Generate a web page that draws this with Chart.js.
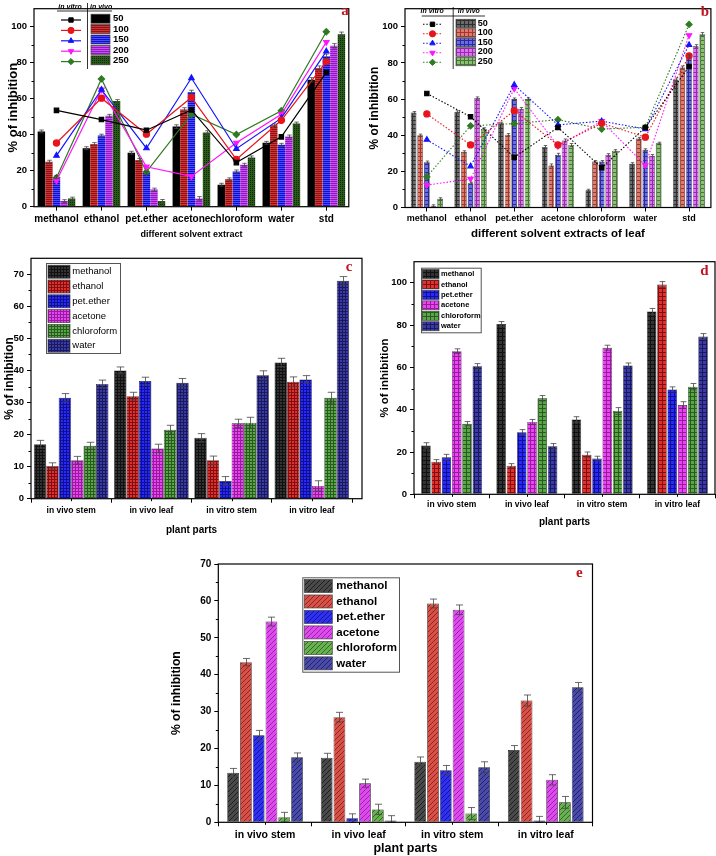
<!DOCTYPE html>
<html><head><meta charset="utf-8">
<script src="https://cdn.jsdelivr.net/npm/chart.js@4.4.0/dist/chart.umd.min.js"></script>
<style>
html,body{margin:0;padding:0;background:#fff;}
body{width:716px;height:856px;position:relative;overflow:hidden;}
canvas{position:absolute;}
</style></head><body>
<canvas id="ca" width="354" height="244" style="left:0;top:0"></canvas>
<canvas id="cb" width="356" height="246" style="left:360px;top:0"></canvas>
<canvas id="cc" width="366" height="290" style="left:0;top:248px"></canvas>
<canvas id="cd" width="346" height="285" style="left:370px;top:248px"></canvas>
<canvas id="ce" width="432" height="306" style="left:165px;top:550px"></canvas>
<script>
// ================= DATA =================
// Panel a
const solventsA = ['methanol','ethanol','pet.ether','acetone','chloroform','water','std'];
const concLabels = ['50','100','150','200','250'];
const aVivo50  = [41.8, 32.5, 30.0, 44.5, 12.2, 35.5, 70.5];
const aVivo100 = [25.0, 34.8, 26.0, 54.0, 15.2, 45.2, 77.0];
const aVivo150 = [16.5, 39.5, 18.8, 63.7, 19.6, 34.4, 83.6];
const aVivo200 = [3.1, 50.5, 9.5, 4.6, 23.3, 39.0, 89.4];
const aVivo250 = [4.5, 58.7, 3.2, 41.2, 27.4, 46.2, 95.8];
const aVivoErr = [0.8, 0.8, 0.8, 1.0, 0.8, 0.8, 1.2];
const aVitro50  = [53.5, 48.4, 42.5, 53.8, 24.5, 38.8, 74.6];
const aVitro100 = [35.4, 60.3, 40.3, 60.7, 26.3, 48.0, 80.6];
const aVitro150 = [28.4, 65.0, 32.5, 71.5, 32.2, 49.2, 86.3];
const aVitro200 = [14.4, 65.0, 22.2, 16.8, 35.5, 51.3, 91.4];
const aVitro250 = [16.1, 71.0, 19.3, 51.4, 40.1, 53.3, 97.2];
const aTicks = [0, 20, 40, 60, 80, 100];

// Panel b
const solventsB = ['methanol','ethanol','pet.ether','acetone','chloroform','water','std'];
const bVivo50  = [52.5, 52.9, 46.6, 33.5, 9.5, 24.2, 70.8];
const bVivo100 = [40.0, 30.8, 40.3, 23.3, 25.4, 38.2, 77.4];
const bVivo150 = [25.1, 13.4, 60.0, 29.2, 25.4, 31.9, 83.7];
const bVivo200 = [0.9, 60.6, 54.7, 37.1, 29.2, 28.7, 89.2];
const bVivo250 = [4.8, 43.5, 60.0, 34.6, 31.4, 35.5, 95.9];
const bVivoErr = [0.6, 0.6, 0.6, 0.8, 0.6, 0.6, 0.9];
const bVitro50  = [63.1, 50.2, 27.8, 44.3, 22.0, 44.3, 78.0];
const bVitro100 = [51.8, 34.6, 53.6, 34.6, 46.6, 38.9, 83.9];
const bVitro150 = [37.5, 22.8, 67.9, 45.7, 47.8, 43.4, 90.0];
const bVitro200 = [12.4, 15.8, 65.8, 34.0, 47.8, 23.3, 95.3];
const bVitro250 = [17.0, 45.2, 46.4, 48.6, 43.4, 44.4, 101.3];
const bTicks = [0, 20, 40, 60, 80, 100];

// Panels c, d, e
const plantParts = ['in vivo stem','in vivo leaf','in vitro stem','in vitro leaf'];
const solvents6 = ['methanol','ethanol','pet.ether','acetone','chloroform','water'];

const cMethanol   = [17.0, 40.0, 19.0, 42.5];
const cEthanol    = [10.2, 32.0, 12.0, 36.5];
const cPetEther   = [31.5, 36.7, 5.5, 37.2];
const cAcetone    = [12.0, 15.7, 23.5, 4.0];
const cChloroform = [16.5, 21.5, 23.7, 31.5];
const cWater      = [35.8, 36.2, 38.5, 68.0];
const cErrMethanol   = [1.2, 1.1, 1.3, 1.3];
const cErrEthanol    = [1.0, 1.2, 1.3, 1.5];
const cErrPetEther   = [1.3, 1.2, 1.4, 1.2];
const cErrAcetone    = [1.2, 1.3, 1.3, 1.6];
const cErrChloroform = [1.1, 1.4, 1.7, 1.7];
const cErrWater      = [1.2, 1.3, 1.4, 1.3];
const cTicks = [0, 10, 20, 30, 40, 50, 60, 70];

const dMethanol   = [23.1, 80.5, 35.4, 86.5];
const dEthanol    = [15.4, 13.5, 18.7, 99.2];
const dPetEther   = [17.5, 29.3, 16.9, 49.6];
const dAcetone    = [67.7, 34.2, 69.3, 42.2];
const dChloroform = [33.4, 45.4, 39.4, 50.9];
const dWater      = [60.5, 22.7, 60.9, 74.6];
const dErrMethanol   = [1.3, 1.2, 1.3, 1.4];
const dErrEthanol    = [1.0, 1.0, 1.3, 1.4];
const dErrPetEther   = [1.4, 1.3, 1.1, 1.2];
const dErrAcetone    = [1.1, 1.2, 1.2, 1.6];
const dErrChloroform = [1.0, 1.3, 1.6, 1.5];
const dErrWater      = [1.3, 1.3, 1.2, 1.4];
const dTicks = [0, 20, 40, 60, 80, 100];

const eMethanol   = [13.4, 17.5, 16.4, 19.6];
const eEthanol    = [43.4, 28.5, 59.3, 33.0];
const ePetEther   = [23.6, 1.1, 14.1, 0.5];
const eAcetone    = [54.4, 10.6, 57.6, 11.5];
const eChloroform = [1.4, 3.5, 2.4, 5.4];
const eWater      = [17.6, 0.5, 14.9, 36.6];
const eErrMethanol   = [1.2, 1.2, 1.3, 1.2];
const eErrEthanol    = [1.0, 1.3, 1.2, 1.5];
const eErrPetEther   = [1.3, 1.2, 1.3, 1.1];
const eErrAcetone    = [1.2, 1.1, 1.3, 1.4];
const eErrChloroform = [1.3, 1.4, 1.6, 1.6];
const eErrWater      = [1.2, 1.3, 1.5, 1.3];
const eTicks = [0, 10, 20, 30, 40, 50, 60, 70];

// ================= STYLE =================
const FF = "'Liberation Sans', Arial, Helvetica, sans-serif";
Chart.defaults.font.family = FF;
Chart.defaults.font.weight = 'bold';
Chart.defaults.color = '#000';
Chart.defaults.animation = false;

function pat(base, line, kind, s) {
  const c = document.createElement('canvas'); c.width = s; c.height = s;
  const g = c.getContext('2d');
  g.fillStyle = base; g.fillRect(0, 0, s, s);
  g.fillStyle = line;
  if (kind === 'h') g.fillRect(0, 0, s, 1);
  else if (kind === 'grid') { g.fillRect(0, 0, s, 1); g.fillRect(0, 0, 1, s); }
  else if (kind === 'dots') { g.fillRect(0, 0, 1, 1); }
  else if (kind === 'diag') { for (let i = 0; i < s; i++) g.fillRect(s - 1 - i, i, 1, 1); }
  return g.createPattern(c, 'repeat');
}

// ================= PLUGINS =================
const deco = {
  id: 'deco',
  afterDraw(chart, args, o) {
    const ctx = chart.ctx, A = chart.chartArea;
    ctx.save();
    ctx.strokeStyle = '#000';
    ctx.lineWidth = o.frameW || 1.2;
    ctx.strokeRect(A.left, A.top, A.right + (o.extendRight || 0) - A.left, A.bottom - A.top);
    const ys = chart.scales.y, xs = chart.scales.x;
    ctx.lineWidth = 1;
    ctx.beginPath();
    const tv = ys.ticks.map(t => t.value);
    for (let i = 0; i < tv.length - 1; i++) {
      const py = Math.round(ys.getPixelForValue((tv[i] + tv[i + 1]) / 2)) + 0.5;
      ctx.moveTo(A.left - 2.5, py); ctx.lineTo(A.left, py);
    }
    if (o.centerTicks) {
      for (let i = 0; i < xs.ticks.length; i++) {
        const px = Math.round(xs.getPixelForTick(i)) + 0.5;
        ctx.moveTo(px, A.bottom); ctx.lineTo(px, A.bottom + 2.5);
      }
    }
    ctx.stroke();
    if (o.letter) {
      ctx.fillStyle = '#c0141e';
      ctx.font = "bold 15px 'Liberation Serif', 'DejaVu Serif', serif";
      ctx.textAlign = 'center'; ctx.textBaseline = 'middle';
      ctx.fillText(o.letter, o.lx, o.ly);
    }
    ctx.restore();
  }
};

const errorBars = {
  id: 'errorBars',
  afterDatasetsDraw(chart) {
    const ctx = chart.ctx;
    chart.data.datasets.forEach((ds, i) => {
      if (!ds.errors) return;
      const meta = chart.getDatasetMeta(i);
      const ys = chart.scales[meta.yAxisID];
      meta.data.forEach((bar, j) => {
        const v = ds.data[j], e = ds.errors[j];
        const x = Math.round(bar.x) + 0.5;
        const yt = ys.getPixelForValue(v + e), yb = ys.getPixelForValue(Math.max(v - e, 0));
        const w = Math.max(bar.width * 0.3, 1.5);
        ctx.save();
        ctx.strokeStyle = ds.errColor || '#444';
        ctx.lineWidth = 0.8;
        ctx.beginPath();
        ctx.moveTo(x, yt); ctx.lineTo(x, yb);
        ctx.moveTo(x - w, yt); ctx.lineTo(x + w, yt);
        ctx.moveTo(x - w, yb); ctx.lineTo(x + w, yb);
        ctx.stroke();
        ctx.restore();
      });
    });
  }
};

const leg = {
  id: 'leg',
  afterDraw(chart, args, o) {
    if (!o || o.sx === undefined) return;
    const ctx = chart.ctx;
    ctx.save();
    if (o.box) { ctx.strokeStyle = '#555'; ctx.lineWidth = 1; ctx.strokeRect(o.box[0] + 0.5, o.box[1] + 0.5, o.box[2], o.box[3]); }
    const bars = chart.data.datasets.filter(d => d.type !== 'line');
    ctx.textBaseline = 'middle'; ctx.textAlign = 'left';
    bars.forEach((d, i) => {
      const y = o.y0 + i * o.dy;
      ctx.fillStyle = d.backgroundColor;
      ctx.fillRect(o.sx, y - o.sh / 2, o.sw, o.sh);
      ctx.strokeStyle = '#444'; ctx.lineWidth = 0.7;
      ctx.strokeRect(o.sx, y - o.sh / 2, o.sw, o.sh);
      ctx.fillStyle = '#000';
      ctx.font = o.font;
      ctx.fillText(d.label, o.tx, y);
    });
    if (o.lines) {
      const L = chart.data.datasets.filter(d => d.type === 'line');
      L.forEach((d, i) => {
        const y = o.ly0 + i * o.ldy;
        ctx.strokeStyle = d.borderColor; ctx.lineWidth = d.borderWidth;
        ctx.setLineDash(d.borderDash || []);
        ctx.beginPath(); ctx.moveTo(o.lx0, y); ctx.lineTo(o.lx1, y); ctx.stroke();
        ctx.setLineDash([]);
        ctx.fillStyle = d.pointBackgroundColor; ctx.strokeStyle = d.borderColor; ctx.lineWidth = 1;
        Chart.helpers.drawPoint(ctx, {pointStyle: d.pointStyle, rotation: d.pointRotation || 0, radius: d.pointRadius, borderWidth: 1}, (o.lx0 + o.lx1) / 2, y);
      });
      ctx.fillStyle = '#000';
      ctx.font = "italic bold 7px " + FF;
      ctx.textAlign = 'center';
      ctx.fillText('in vitro', o.h1x, o.hy);
      ctx.textAlign = 'left';
      ctx.fillText('in vivo', o.h2x, o.hy);
      ctx.strokeStyle = '#000'; ctx.lineWidth = 0.8;
      ctx.beginPath();
      ctx.moveTo(o.ux0, o.uy + 0.5); ctx.lineTo(o.ux1, o.uy + 0.5);
      ctx.moveTo(o.vx + 0.5, o.vy0); ctx.lineTo(o.vx + 0.5, o.vy1);
      ctx.stroke();
    }
    ctx.restore();
  }
};

function scalesCfg(o) {
  return {
    x: {
      type: 'category', offset: true,
      grid: {display: true, drawOnChartArea: false, offset: o.gridOffset, tickLength: 4, color: '#000', tickWidth: 1},
      border: {display: false},
      ticks: {font: {size: o.xFont, weight: 'bold'}, color: '#000', padding: o.xPad, maxRotation: 0, autoSkip: false},
      title: {display: true, text: o.xTitle, font: {size: o.xTitleFont, weight: 'bold'}, color: '#000', padding: {top: 0, bottom: o.xTitlePad}},
      afterFit: s => { s.height = o.xH; }
    },
    y: {
      min: 0, max: o.yMax,
      afterBuildTicks: s => { s.ticks = o.yTicks.map(v => ({value: v})); },
      grid: {display: true, drawOnChartArea: false, tickLength: 4, color: '#000', tickWidth: 1},
      border: {display: false},
      ticks: {font: {size: o.yFont, weight: 'bold'}, color: '#000', padding: 3},
      title: {display: true, text: '% of inhibition', font: {size: o.yTitleFont, weight: 'bold'}, color: '#000', padding: {top: o.yTitlePad, bottom: 0}},
      afterFit: s => { s.width = o.yW; }
    }
  };
}

function barDs(label, data, errors, bg, cat, bp, bw) {
  return {type: 'bar', label, data, errors, backgroundColor: bg, borderColor: '#222', borderWidth: bw,
          categoryPercentage: cat, barPercentage: bp, order: 2};
}
function lineDs(label, data, color, style, rot, dash) {
  return {type: 'line', label, data, borderColor: color, backgroundColor: color, pointBackgroundColor: color,
          pointBorderColor: color, borderWidth: dash ? 1.1 : 1.2, borderDash: dash || [], pointStyle: style,
          pointRotation: rot, pointRadius: 3.1, tension: 0, order: 0};
}

const lineColors = ['#000000', '#e8141c', '#1414ff', '#ff14ff', '#2f7a22'];
const lineStyles = ['rect', 'circle', 'triangle', 'triangle', 'rectRot'];
const lineRots = [0, 0, 0, 180, 0];

// ================= PANEL A =================
const aPats = [
  '#000000',
  pat('#8e1010', '#d03535', 'h', 2),
  pat('#1010c8', '#4a4aff', 'h', 2),
  pat('#9018c0', '#c850f0', 'h', 2),
  pat('#2c5a1a', '#0e2a08', 'dots', 2)
];
const aVivo = [aVivo50, aVivo100, aVivo150, aVivo200, aVivo250];
const aVitro = [aVitro50, aVitro100, aVitro150, aVitro200, aVitro250];
new Chart(document.getElementById('ca'), {
  type: 'bar',
  data: {
    labels: solventsA,
    datasets: [
      ...aVitro.map((d, i) => lineDs('in vitro ' + concLabels[i], d, lineColors[i], lineStyles[i], lineRots[i])),
      ...aVivo.map((d, i) => barDs(concLabels[i], d, aVivoErr, aPats[i], 0.84, 0.98, 0))
    ]
  },
  options: {
    responsive: false, animation: false,
    layout: {padding: {left: 0, top: 2, right: 4, bottom: 0}},
    scales: scalesCfg({gridOffset: false, xFont: 10, xPad: 2.6, xTitle: 'different solvent extract', xTitleFont: 9, xTitlePad: 3.6, xH: 37.3,
                       yMax: 110, yTicks: aTicks, yFont: 9.5, yTitleFont: 13, yTitlePad: 5.2, yW: 34}),
    plugins: {
      legend: {display: false}, tooltip: {enabled: false},
      deco: {letter: 'a', lx: 345, ly: 11, frameW: 1.2},
      leg: {sx: 91, sw: 19, sh: 9, y0: 18.7, dy: 10.4, tx: 113, font: 'bold 9.5px ' + FF,
            lines: true, lx0: 61, lx1: 81, ly0: 20, ldy: 10.4,
            h1x: 70, h2x: 90, hy: 7, ux0: 57, ux1: 112, uy: 10.5, vx: 87, vy0: 3, vy1: 69}
    }
  },
  plugins: [deco, errorBars, leg]
});

// ================= PANEL B =================
const bPats = [
  pat('#6a6a6a', '#2e2e2e', 'grid', 4),
  pat('#e07a6c', '#9c3a30', 'grid', 4),
  pat('#6c6ce6', '#2a2a9a', 'grid', 4),
  pat('#e070f0', '#9030a8', 'grid', 4),
  pat('#8cc070', '#46763a', 'grid', 4)
];
const bVivo = [bVivo50, bVivo100, bVivo150, bVivo200, bVivo250];
const bVitro = [bVitro50, bVitro100, bVitro150, bVitro200, bVitro250];
new Chart(document.getElementById('cb'), {
  type: 'bar',
  data: {
    labels: solventsB,
    datasets: [
      ...bVitro.map((d, i) => lineDs('in vitro ' + concLabels[i], d, lineColors[i], lineStyles[i], lineRots[i], [1.5, 1.8])),
      ...bVivo.map((d, i) => barDs(concLabels[i], d, bVivoErr, bPats[i], 0.76, 0.86, 0.6))
    ]
  },
  options: {
    responsive: false, animation: false,
    layout: {padding: {left: 0, top: 4, right: 3, bottom: 0}},
    scales: scalesCfg({gridOffset: false, xFont: 9, xPad: 1.4, xTitle: 'different solvent extracts of leaf', xTitleFont: 11.5, xTitlePad: 5.1, xH: 38.5,
                       yMax: 110, yTicks: bTicks, yFont: 9.5, yTitleFont: 12, yTitlePad: 7.1, yW: 45}),
    plugins: {
      legend: {display: false}, tooltip: {enabled: false},
      deco: {letter: 'b', lx: 345, ly: 12, frameW: 1.2},
      leg: {sx: 96, sw: 19.7, sh: 8.5, y0: 23.5, dy: 9.5, tx: 117.7, font: 'bold 9px ' + FF,
            lines: true, lx0: 63, lx1: 82, ly0: 24.3, ldy: 9.5,
            h1x: 72.2, h2x: 97.7, hy: 11, ux0: 61.7, ux1: 125, uy: 15.5, vx: 92.7, vy0: 7, vy1: 69}
    }
  },
  plugins: [deco, errorBars, leg]
});

// ================= PANEL C =================
const cPats = [
  pat('#333333', '#111111', 'grid', 3),
  pat('#e03030', '#801010', 'grid', 3),
  pat('#2828ff', '#10108a', 'grid', 3),
  pat('#f040f8', '#902098', 'grid', 3),
  pat('#58a848', '#2a5a20', 'grid', 3),
  pat('#3a3aa8', '#1a1a5a', 'grid', 3)
];
const cVals = [cMethanol, cEthanol, cPetEther, cAcetone, cChloroform, cWater];
const cErrs = [cErrMethanol, cErrEthanol, cErrPetEther, cErrAcetone, cErrChloroform, cErrWater];
new Chart(document.getElementById('cc'), {
  type: 'bar',
  data: {labels: plantParts, datasets: cVals.map((d, i) => barDs(solvents6[i], d, cErrs[i], cPats[i], 0.93, 1.0, 0.6))},
  options: {
    responsive: false, animation: false,
    layout: {padding: {left: 0, top: 10.3, right: 14, bottom: 0}},
    scales: scalesCfg({gridOffset: true, xFont: 8.5, xPad: 2.7, xTitle: 'plant parts', xTitleFont: 10, xTitlePad: 2, xH: 39.3,
                       yMax: 75, yTicks: cTicks, yFont: 9.5, yTitleFont: 12, yTitlePad: 2.8, yW: 31}),
    plugins: {
      legend: {display: false}, tooltip: {enabled: false},
      deco: {letter: 'c', lx: 349, ly: 18.7, frameW: 1.2, extendRight: 10, centerTicks: true},
      leg: {box: [46, 15, 74, 90], sx: 48, sw: 22, sh: 13, y0: 23.7, dy: 14.8, tx: 72.3, font: 'normal 9.5px ' + FF}
    }
  },
  plugins: [deco, errorBars, leg]
});

// ================= PANEL D =================
const dPats = [
  pat('#333333', '#111111', 'grid', 4),
  pat('#e03030', '#801010', 'grid', 4),
  pat('#2828ff', '#10108a', 'grid', 4),
  pat('#f040f8', '#902098', 'grid', 4),
  pat('#58a848', '#2a5a20', 'grid', 4),
  pat('#3a3aa8', '#1a1a5a', 'grid', 4)
];
const dVals = [dMethanol, dEthanol, dPetEther, dAcetone, dChloroform, dWater];
const dErrs = [dErrMethanol, dErrEthanol, dErrPetEther, dErrAcetone, dErrChloroform, dErrWater];
new Chart(document.getElementById('cd'), {
  type: 'bar',
  data: {labels: plantParts, datasets: dVals.map((d, i) => barDs(solvents6[i], d, dErrs[i], dPats[i], 0.82, 0.93, 0.6))},
  options: {
    responsive: false, animation: false,
    layout: {padding: {left: 0, top: 13.7, right: 1, bottom: 0}},
    scales: scalesCfg({gridOffset: true, xFont: 8.5, xPad: 1.6, xTitle: 'plant parts', xTitleFont: 10, xTitlePad: 5, xH: 38.7,
                       yMax: 110, yTicks: dTicks, yFont: 9.5, yTitleFont: 11.5, yTitlePad: 8.1, yW: 44}),
    plugins: {
      legend: {display: false}, tooltip: {enabled: false},
      deco: {letter: 'd', lx: 334.3, ly: 23, frameW: 1.2, centerTicks: true},
      leg: {box: [51, 19.7, 59.7, 64.6], sx: 52.3, sw: 16.7, sh: 9, y0: 26, dy: 10.45, tx: 71, font: 'bold 7.5px ' + FF}
    }
  },
  plugins: [deco, errorBars, leg]
});

// ================= PANEL E =================
const ePats = [
  pat('#4a4a4a', '#1e1e1e', 'diag', 5),
  pat('#d85048', '#8a2820', 'diag', 5),
  pat('#3030f0', '#14149a', 'diag', 5),
  pat('#e048f0', '#9028a0', 'diag', 5),
  pat('#68b050', '#2e6a20', 'diag', 5),
  pat('#4a4aa8', '#22226a', 'diag', 5)
];
const eVals = [eMethanol, eEthanol, ePetEther, eAcetone, eChloroform, eWater];
const eErrs = [eErrMethanol, eErrEthanol, eErrPetEther, eErrAcetone, eErrChloroform, eErrWater];
new Chart(document.getElementById('ce'), {
  type: 'bar',
  data: {labels: plantParts, datasets: eVals.map((d, i) => barDs(solvents6[i], d, eErrs[i], ePats[i], 0.82, 0.92, 0.7))},
  options: {
    responsive: false, animation: false,
    layout: {padding: {left: 0, top: 14, right: 4.5, bottom: 0}},
    scales: scalesCfg({gridOffset: true, xFont: 10.5, xPad: 2.4, xTitle: 'plant parts', xTitleFont: 12.5, xTitlePad: 0, xH: 33.7,
                       yMax: 70, yTicks: eTicks, yFont: 10, yTitleFont: 12.2, yTitlePad: 4.4, yW: 53.3}),
    plugins: {
      legend: {display: false}, tooltip: {enabled: false},
      deco: {letter: 'e', lx: 414.3, ly: 22.7, frameW: 1.2, centerTicks: true},
      leg: {box: [137.3, 27.3, 96.7, 94.4], sx: 139.3, sw: 28, sh: 13, y0: 36, dy: 15.47, tx: 171.3, font: 'bold 11.5px ' + FF}
    }
  },
  plugins: [deco, errorBars, leg]
});
</script>
</body></html>
